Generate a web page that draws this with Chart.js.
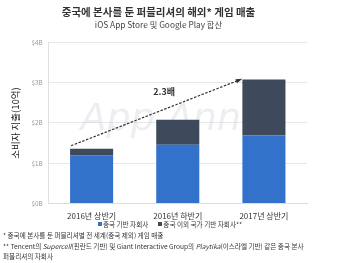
<!DOCTYPE html>
<html>
<head>
<meta charset="utf-8">
<script src="https://cdn.jsdelivr.net/npm/chart.js@4"></script>
<style>
  html, body { margin: 0; padding: 0; background: #fff; }
  #wrap { position: relative; width: 340px; height: 263px; overflow: hidden; }
  #c { position: absolute; left: 0; top: 0; }
  .note {
    position: absolute; left: 3px; width: 336px;
    font-family: 'Noto Sans CJK KR', 'Noto Sans', sans-serif;
    font-size: 6.6px; line-height: 9.5px; color: #333;
  }
  #legend {
    position: absolute; left: 0; width: 340px; top: 220px; text-align: center;
    font-family: 'Noto Sans CJK KR', 'Noto Sans', sans-serif;
    font-size: 6.6px; line-height: 9px; color: #333; padding-left: 0px;
  }
  #legend span.item { margin: 0 5px; white-space: nowrap; }
  #legend i.sw { display: inline-block; width: 4px; height: 4px; margin-right: 1px; vertical-align: 1px; }
</style>
</head>
<body>
<div id="wrap">
  <canvas id="c" width="340" height="263"></canvas>
  <div id="legend"></div>
  <div class="note" style="top:231px">* 중국에 본사를 둔 퍼블리셔별 전 세계(중국 제외) 게임 매출</div>
  <div class="note" style="top:242px">** Tencent의 <i>Supercell</i>(핀란드 기반) 및 Giant Interactive Group의 <i>Playtika</i>(이스라엘 기반) 같은 중국 본사<br>퍼블리셔의 자회사</div>
</div>
<script>
// 데이터
const categories = ['2016년 상반기', '2016년 하반기', '2017년 상반기'];
const chinaBased = [1.2, 1.46, 1.69];
const overseasBased = [0.16, 0.62, 1.39];
const seriesNames = ['중국 기반 자회사', '중국 이외 국가 기반 자회사**'];
const yTicks = [0, 1, 2, 3, 4];
const growthLabel = '2.3배';

const FONT = "'Noto Sans CJK KR', 'Noto Sans', sans-serif";
const BLUE = '#3372cb';
const DARK = '#3e4a5b';
const seriesColors = [BLUE, DARK];

// 범례 (HTML)
document.getElementById('legend').innerHTML = seriesNames.map((n, i) =>
  `<span class="item"><i class="sw" style="background:${seriesColors[i]}"></i>${n}</span>`
).join('');

// 워터마크 + 점선 화살표
const extras = {
  id: 'extras',
  beforeDatasetsDraw(chart) {
    const { ctx, chartArea } = chart;
    ctx.save();
    ctx.font = "italic 38px 'DejaVu Sans', sans-serif";
    ctx.fillStyle = 'rgba(200,205,215,0.35)';
    ctx.textAlign = 'center';
    ctx.textBaseline = 'middle';
    ctx.fillText('App Annie', (chartArea.left + chartArea.right) / 2, 120);
    ctx.restore();
  },
  afterDatasetsDraw(chart) {
    const { ctx } = chart;
    const x = chart.scales.x, y = chart.scales.y;
    const m0 = chart.getDatasetMeta(1).data[0];
    const m2 = chart.getDatasetMeta(1).data[2];
    const x0 = m0.x - m0.width / 2 + 1;
    const y0 = y.getPixelForValue(chinaBased[0] + overseasBased[0]) - 3;
    const x1 = m2.x - m2.width / 2 - 2;
    const y1 = y.getPixelForValue(chinaBased[2] + overseasBased[2]);
    ctx.save();
    ctx.strokeStyle = '#333';
    ctx.lineWidth = 1.2;
    ctx.setLineDash([2.5, 1.5]);
    ctx.beginPath();
    ctx.moveTo(x0, y0);
    ctx.lineTo(x1, y1);
    ctx.stroke();
    ctx.setLineDash([]);
    const ang = Math.atan2(y1 - y0, x1 - x0);
    ctx.fillStyle = '#333';
    ctx.beginPath();
    ctx.moveTo(x1 + 2, y1 - 0.7);
    ctx.lineTo(x1 - 5 * Math.cos(ang - 0.45), y1 - 5 * Math.sin(ang - 0.45));
    ctx.lineTo(x1 - 5 * Math.cos(ang + 0.45), y1 - 5 * Math.sin(ang + 0.45));
    ctx.closePath();
    ctx.fill();
    ctx.font = 'bold 9px ' + FONT;
    ctx.fillStyle = '#333';
    ctx.textAlign = 'center';
    ctx.textBaseline = 'middle';
    ctx.fillText(growthLabel, (x.getPixelForValue(1) + x.getPixelForValue(0.5)) / 2 + 8, y.getPixelForValue(2.78));
    ctx.restore();
  }
};

new Chart(document.getElementById('c'), {
  type: 'bar',
  data: {
    labels: categories,
    datasets: [
      { label: seriesNames[0], data: chinaBased, backgroundColor: BLUE },
      { label: seriesNames[1], data: overseasBased, backgroundColor: DARK }
    ]
  },
  options: {
    responsive: false,
    animation: false,
    layout: { padding: { left: 10, right: 33, top: 0, bottom: 42 } },
    datasets: { bar: { categoryPercentage: 1, barPercentage: 0.5 } },
    plugins: {
      title: {
        display: true,
        text: '중국에 본사를 둔 퍼블리셔의 해외* 게임 매출',
        font: { family: FONT, size: 10.5, weight: 'bold' },
        color: '#333',
        padding: { top: 6, bottom: 1 }
      },
      subtitle: {
        display: true,
        text: 'iOS App Store 및 Google Play 합산',
        font: { family: FONT, size: 8.3 },
        color: '#444',
        padding: { top: 0, bottom: 13 }
      },
      legend: { display: false },
      tooltip: { enabled: false }
    },
    scales: {
      x: {
        stacked: true,
        grid: { display: false },
        border: { color: '#ddd' },
        ticks: { font: { family: FONT, size: 8 }, color: '#333', padding: 0 }
      },
      y: {
        stacked: true,
        min: 0,
        max: 4,
        afterBuildTicks(axis) { axis.ticks = yTicks.map(v => ({ value: v })); },
        grid: { color: '#e8e8e8', drawTicks: false },
        border: { color: '#e0e0e0' },
        ticks: {
          font: { family: FONT, size: 6.3 },
          color: '#999',
          padding: 6,
          callback: v => '$' + v + 'B'
        },
        title: {
          display: true,
          text: '소비자 지출(10억)',
          font: { family: FONT, size: 9.5 },
          color: '#222',
          padding: { top: 0, bottom: 4 }
        }
      }
    }
  },
  plugins: [extras]
});
</script>
</body>
</html>
